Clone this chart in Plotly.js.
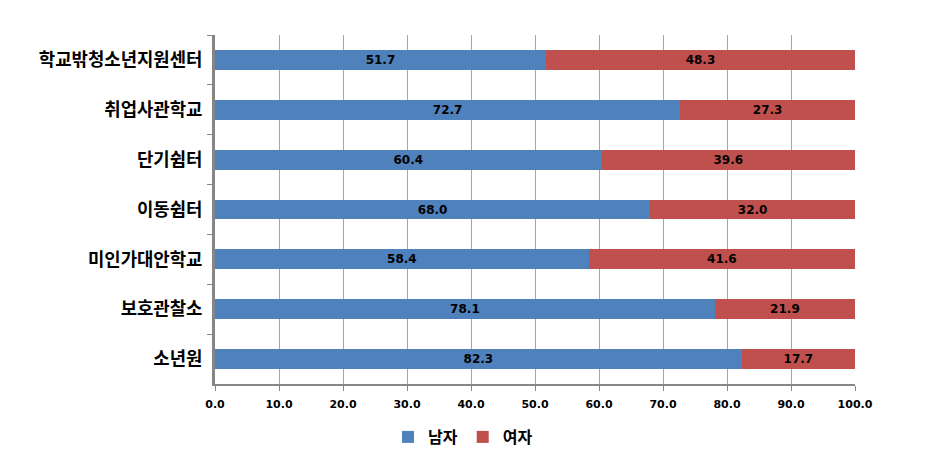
<!DOCTYPE html>
<html>
<head>
<meta charset="utf-8">
<script src="https://cdn.plot.ly/plotly-3.0.1.min.js"></script>
<style>html,body{margin:0;padding:0;background:#fff;}#chart{width:946px;height:454px;}</style>
</head>
<body>
<div id="chart"></div>
<script>
var categories = ["학교밖청소년지원센터", "취업사관학교", "단기쉼터", "이동쉼터", "미인가대안학교", "보호관찰소", "소년원"];
var male = [51.7, 72.7, 60.4, 68.0, 58.4, 78.1, 82.3];
var female = [48.3, 27.3, 39.6, 32.0, 41.6, 21.9, 17.7];
var seriesNames = ["남자", "여자"];
var tickVals = [0, 10, 20, 30, 40, 50, 60, 70, 80, 90, 100];

var labelFont = {family: "DejaVu Sans, Verdana, sans-serif", size: 12, color: "#000", weight: "bold"};

var traces = [
  {type: "bar", orientation: "h", name: seriesNames[0], y: categories, x: male,
   marker: {color: "#4F81BD", line: {width: 0}},
   texttemplate: "%{x:.1f}", textposition: "inside", insidetextanchor: "middle",
   constraintext: "none", textfont: labelFont, hoverinfo: "none"},
  {type: "bar", orientation: "h", name: seriesNames[1], y: categories, x: female,
   marker: {color: "#C0504D", line: {width: 0}},
   texttemplate: "%{x:.1f}", textposition: "inside", insidetextanchor: "middle",
   constraintext: "none", textfont: labelFont, hoverinfo: "none"}
];

var layout = {
  width: 946, height: 454,
  margin: {l: 215, r: 91, t: 35, b: 70},
  barmode: "stack",
  bargap: 0.6,
  paper_bgcolor: "#fff", plot_bgcolor: "#fff",
  showlegend: true,
  legend: {orientation: "h", xref: "container", yref: "container",
           x: 463 / 946, xanchor: "center", y: 17 / 454, yanchor: "middle",
           font: {family: "Noto Sans CJK KR, sans-serif", size: 16, color: "#000", weight: "bold"},
           itemwidth: 30, traceorder: "normal", tracegroupgap: 0},
  xaxis: {
    range: [0, 100], tickvals: tickVals, ticktext: tickVals.map(function(v){return v.toFixed(1);}),
    showgrid: true, gridcolor: "#A6A6A6", gridwidth: 1,
    showline: true, linecolor: "#868686", linewidth: 2,
    ticks: "outside", ticklen: 5, tickcolor: "#868686", tickwidth: 1,
    tickfont: {family: "DejaVu Sans, Verdana, sans-serif", size: 11, color: "#000", weight: "bold"},
    ticklabelstandoff: 4,
    zeroline: false, fixedrange: true, automargin: false
  },
  yaxis: {
    type: "category", autorange: "reversed",
    showline: true, linecolor: "#868686", linewidth: 3,
    ticks: "outside", tickson: "boundaries", ticklen: 5, tickcolor: "#868686", tickwidth: 1,
    tickfont: {family: "Noto Sans CJK KR, sans-serif", size: 17.8, color: "#000", weight: "bold"},
    ticklabelstandoff: 6,
    showgrid: false, zeroline: false, fixedrange: true, automargin: false
  }
};

Plotly.newPlot("chart", traces, layout, {staticPlot: true, displayModeBar: false});
</script>
</body>
</html>
